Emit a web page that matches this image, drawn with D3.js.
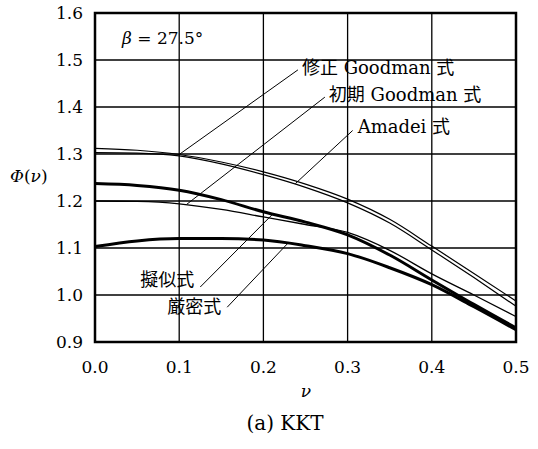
<!DOCTYPE html>
<meta charset="utf-8">
<style>
body { margin: 0; background: #fff; }
text { font-family: "DejaVu Serif", "Noto Sans CJK JP", serif; fill: #000; }
.curve { fill: none; stroke: #000; }
.grid line { stroke: #000; stroke-width: 1.3px; }
</style>
<body>
<script src="https://d3js.org/d3.v7.min.js"></script>
<script>

// data
var nu = [0.0, 0.05, 0.1, 0.15, 0.2, 0.25, 0.3, 0.35, 0.4, 0.45, 0.5];
var modGoodman  = [1.312, 1.308, 1.299, 1.283, 1.262, 1.236, 1.204, 1.161, 1.104, 1.046, 0.987];
var amadei      = [1.303, 1.302, 1.296, 1.279, 1.256, 1.229, 1.196, 1.153, 1.096, 1.037, 0.976];
var initGoodman = [1.200, 1.199, 1.194, 1.182, 1.166, 1.150, 1.133, 1.095, 1.045, 1.000, 0.954];
var pseudo      = [1.237, 1.233, 1.223, 1.203, 1.177, 1.155, 1.128, 1.085, 1.032, 0.980, 0.930];
var exact       = [1.103, 1.115, 1.120, 1.120, 1.117, 1.105, 1.088, 1.058, 1.022, 0.975, 0.926];

var xTicks = [0.0, 0.1, 0.2, 0.3, 0.4, 0.5];
var yTicks = [0.9, 1.0, 1.1, 1.2, 1.3, 1.4, 1.5, 1.6];

// labels: [text, point on curve (nu, phi), leader end (nu, phi)]
var labels = [
  ["修正 Goodman 式", [0.100, 1.299], [0.241, 1.479]],
  ["初期 Goodman 式", [0.109, 1.193], [0.273, 1.421]],
  ["Amadei 式",       [0.238, 1.237], [0.306, 1.350]],
  ["擬似式",          [0.211, 1.172], [0.125, 1.017]],
  ["厳密式",          [0.229, 1.110], [0.157, 0.974]]
];

// label placement relative to the leader end: [anchor, dx, dy]
var labelPlace = [["start", 4, -1], ["start", 4, -1], ["start", 5, -3], ["end", -6, -6], ["end", -6, 1]];

var W = 538, H = 449;
var mLeft = 95, mRight = 516, mTop = 13, mBottom = 342;

var svg = d3.select("body").append("svg")
    .attr("width", W)
    .attr("height", H);

var x = d3.scaleLinear().domain([0, 0.5]).range([mLeft, mRight]);
var y = d3.scaleLinear().domain([0.9, 1.6]).range([mBottom, mTop]);

// grid
var grid = svg.append("g").attr("class", "grid");
grid.selectAll(".gx").data(xTicks.slice(1, -1)).enter().append("line")
    .attr("x1", function(d) { return x(d); })
    .attr("x2", function(d) { return x(d); })
    .attr("y1", mTop).attr("y2", mBottom);
grid.selectAll(".gy").data(yTicks.slice(1, -1)).enter().append("line")
    .attr("y1", function(d) { return y(d); })
    .attr("y2", function(d) { return y(d); })
    .attr("x1", mLeft).attr("x2", mRight);

// tick labels
svg.selectAll(".xl").data(xTicks).enter().append("text")
    .attr("x", function(d) { return x(d); })
    .attr("y", 373)
    .attr("text-anchor", "middle")
    .style("font-size", "17px")
    .text(function(d) { return d.toFixed(1); });

svg.selectAll(".yl").data(yTicks).enter().append("text")
    .attr("x", mLeft - 12)
    .attr("y", function(d) { return y(d) + 6; })
    .attr("text-anchor", "end")
    .style("font-size", "17px")
    .text(function(d) { return d.toFixed(1); });

// curves
var line = d3.line()
    .x(function(d, i) { return x(nu[i]); })
    .y(function(d) { return y(d); })
    .curve(d3.curveMonotoneX);

var plot = svg.append("g");
[[modGoodman, 1.2], [amadei, 1.2], [initGoodman, 1.3], [pseudo, 3], [exact, 3]].forEach(function(c) {
  plot.append("path")
      .datum(c[0])
      .attr("class", "curve")
      .attr("stroke-width", c[1])
      .attr("d", line);
});

// leaders and labels
labels.forEach(function(l, i) {
  var p = labelPlace[i];
  svg.append("line")
      .attr("x1", x(l[1][0])).attr("y1", y(l[1][1]))
      .attr("x2", x(l[2][0])).attr("y2", y(l[2][1]))
      .attr("stroke", "#000").attr("stroke-width", 1);
  svg.append("text")
      .attr("x", x(l[2][0]) + p[1])
      .attr("y", y(l[2][1]) + p[2])
      .attr("text-anchor", p[0])
      .attr("dominant-baseline", "middle")
      .style("font-size", "18px")
      .text(l[0]);
});

// frame
svg.append("rect")
    .attr("x", mLeft).attr("y", mTop)
    .attr("width", mRight - mLeft).attr("height", mBottom - mTop)
    .attr("fill", "none").attr("stroke", "#000").attr("stroke-width", 2.5);

svg.append("text")
    .attr("x", 122).attr("y", 44)
    .style("font-size", "17px")
    .html('<tspan font-style="italic">β</tspan> = 27.5°');

svg.append("text")
    .attr("x", 10).attr("y", 182)
    .style("font-size", "17px")
    .html('<tspan font-style="italic">Φ</tspan>(<tspan font-style="italic">ν</tspan>)');

svg.append("text")
    .attr("x", 306).attr("y", 397)
    .attr("text-anchor", "middle")
    .style("font-size", "17px")
    .style("font-style", "italic")
    .text("ν");

svg.append("text")
    .attr("x", 285).attr("y", 430)
    .attr("text-anchor", "middle")
    .style("font-size", "20px")
    .text("(a) KKT");

</script>
</body>
